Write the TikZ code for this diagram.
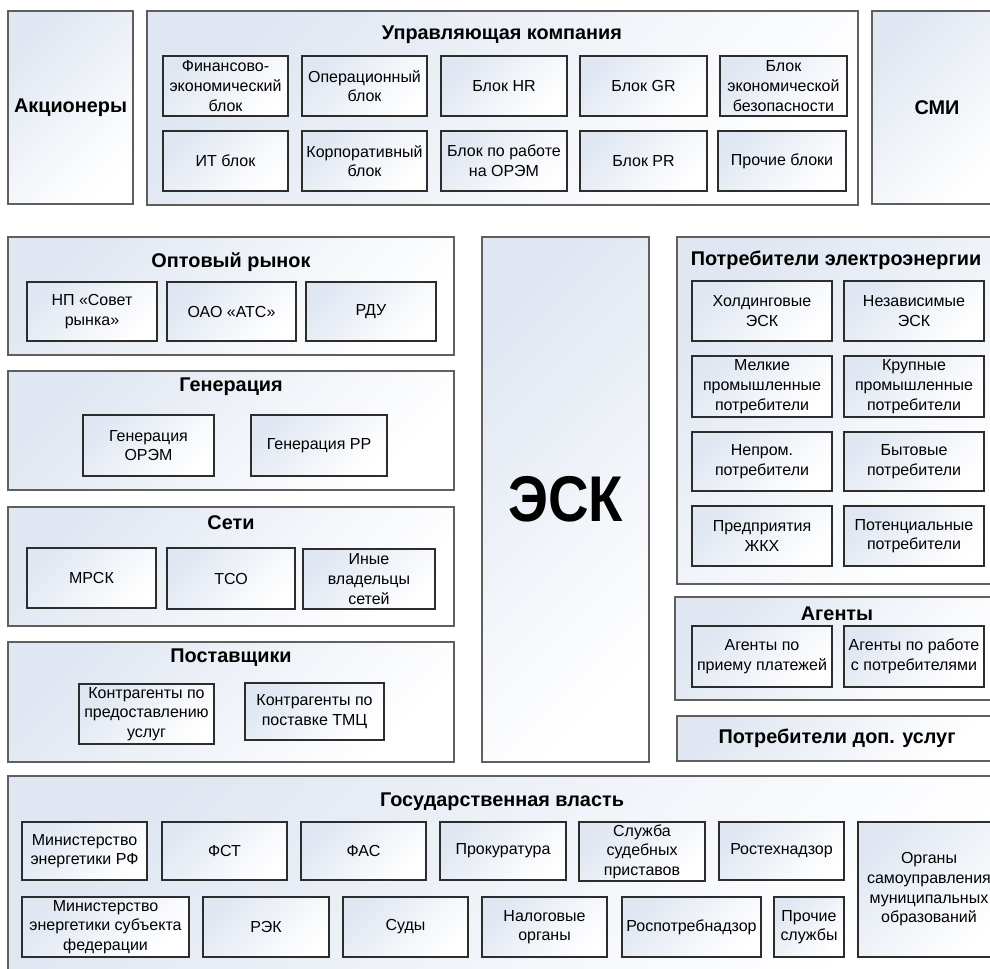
\documentclass[tikz,border=0pt]{standalone}
\usepackage{graphicx}
\usepackage{fontspec}
\setmainfont{Liberation Sans}

\definecolor{shd}{RGB}{224,231,242}
\definecolor{rama}{RGB}{95,95,95}
\definecolor{ramka}{RGB}{45,45,45}

\tikzset{
  blk/.style n args={4}{at={({(#1+#3)/2},{(#2+#4)/2})}, minimum width={(#3-#1)*0.02cm}, minimum height={(#4-#2)*0.02cm}},
  grp/.style={draw=rama, line width=0.9pt, top color=shd, bottom color=white, shading angle=45, inner sep=0pt},
  box/.style={draw=ramka, line width=0.6pt, top color=shd, bottom color=white, shading angle=45, inner sep=0pt,
    align=center, font=\fontsize{9.1}{11.2}\selectfont},
  ttl/.style={font=\fontsize{11.3}{13.5}\selectfont\bfseries},
}

\begin{document}
\begin{tikzpicture}[x=0.02cm, y=-0.02cm]
            \path [use as bounding box, clip] ( 0, 0 ) rectangle ( 990, 969 );

            % верхний ряд
            \node [grp, ttl, blk={8}{11}{133}{204}] (akc) {Акционеры};
            \node [grp, blk={147}{11}{858}{205}] (upr) {};
            \node [ttl] (t-upr) at ( 502, 35 ) {Управляющая компания};
            \node [grp, ttl, blk={872}{11}{1002}{204}] (smi) {СМИ};

            % блоки управляющей компании
            \node [box, blk={163}{56}{288}{116}] (fin) {Финансово-\\экономический\\блок};
            \node [box, blk={302}{56}{427}{116}] (oper) {Операционный\\блок};
            \node [box, blk={441}{56}{567}{116}] (hr) {Блок HR};
            \node [box, blk={580}{56}{707}{116}] (gr) {Блок GR};
            \node [box, blk={720}{56}{847}{116}] (ekb) {Блок\\экономической\\безопасности};
            \node [box, blk={163}{131}{288}{191}] (it) {ИТ блок};
            \node [box, blk={302}{131}{427}{191}] (korp) {Корпоративный\\блок};
            \node [box, blk={441}{131}{567}{191}] (orem) {Блок по работе\\на ОРЭМ};
            \node [box, blk={580}{131}{707}{191}] (pr) {Блок PR};
            \node [box, blk={718}{131}{846}{191}] (proch) {Прочие блоки};

            % оптовый рынок
            \node [grp, blk={8}{237}{454}{355}] (opt) {};
            \node [ttl] (t-opt) at ( 231, 262 ) {Оптовый рынок};
            \node [box, blk={27}{282}{157}{341}] (np) {НП «Совет\\рынка»};
            \node [box, blk={167}{282}{296}{341}] (ats) {ОАО «АТС»};
            \node [box, blk={306}{282}{436}{341}] (rdu) {РДУ};

            % генерация
            \node [grp, blk={8}{371}{454}{490}] (gen) {};
            \node [ttl] (t-gen) at ( 231, 387 ) {Генерация};
            \node [box, blk={83}{415}{214}{476}] (gen-orem) {Генерация\\ОРЭМ};
            \node [box, blk={251}{415}{387}{476}] (gen-rr) {Генерация РР};

            % сети
            \node [grp, blk={8}{507}{454}{626}] (seti) {};
            \node [ttl] (t-seti) at ( 231, 523 ) {Сети};
            \node [box, blk={27}{548}{156}{608}] (mrsk) {МРСК};
            \node [box, blk={167}{548}{295}{609}] (tso) {ТСО};
            \node [box, blk={303}{549}{435}{609}] (inye) {Иные\\владельцы\\сетей};

            % поставщики
            \node [grp, blk={8}{642}{454}{762}] (post) {};
            \node [ttl] (t-post) at ( 231, 658 ) {Поставщики};
            \node [box, blk={79}{684}{214}{744}] (k-usl) {Контрагенты по\\предоставлению\\услуг};
            \node [box, blk={245}{683}{384}{740}] (k-tmc) {Контрагенты по\\поставке ТМЦ};

            % ЭСК
            \node [grp, font=\fontsize{32}{36}\selectfont\bfseries, blk={482}{237}{649}{762}] (esk) {\scalebox{1}[1.15]{ЭСК}};

            % потребители электроэнергии
            \node [grp, blk={677}{237}{996}{584}] (potr) {};
            \node [ttl] (t-potr) at ( 836, 260 ) {Потребители электроэнергии};
            \node [box, blk={692}{281}{832}{341}] (hold) {Холдинговые\\ЭСК};
            \node [box, blk={844}{281}{984}{341}] (nez) {Независимые\\ЭСК};
            \node [box, blk={692}{356}{832}{417}] (melk) {Мелкие\\промышленные\\потребители};
            \node [box, blk={844}{356}{984}{417}] (krup) {Крупные\\промышленные\\потребители};
            \node [box, blk={692}{432}{832}{491}] (neprom) {Непром.\\потребители};
            \node [box, blk={844}{432}{984}{491}] (byt) {Бытовые\\потребители};
            \node [box, blk={692}{506}{832}{566}] (zhkh) {Предприятия\\ЖКХ};
            \node [box, blk={844}{506}{984}{566}] (pot) {Потенциальные\\потребители};

            % агенты
            \node [grp, blk={675}{597}{999}{700}] (ag) {};
            \node [ttl] (t-ag) at ( 837, 614 ) {Агенты};
            \node [box, blk={692}{626}{832}{687}] (ag-pl) {Агенты по\\приему платежей};
            \node [box, blk={844}{626}{984}{687}] (ag-potr) {Агенты по работе\\с потребителями};

            \node [grp, ttl, blk={677}{716}{997}{761}] (dop) {Потребители доп. услуг};

            % государственная власть
            \node [grp, blk={8}{776}{996}{990}] (gos) {};
            \node [ttl] (t-gos) at ( 502, 802 ) {Государственная власть};
            \node [box, blk={22}{822}{147}{880}] (minrf) {Министерство\\энергетики РФ};
            \node [box, blk={162}{822}{287}{880}] (fst) {ФСТ};
            \node [box, blk={301}{822}{426}{880}] (fas) {ФАС};
            \node [box, blk={440}{822}{566}{880}] (prok) {Прокуратура};
            \node [box, blk={579}{822}{705}{881}] (fssp) {Служба\\судебных\\приставов};
            \node [box, blk={719}{822}{844}{880}] (rtn) {Ростехнадзор};
            \node [box, blk={858}{822}{1000}{957}] (omsu) {Органы\\самоуправления\\муниципальных\\образований};
            \node [box, blk={22}{897}{189}{957}] (minsub) {Министерство\\энергетики субъекта\\федерации};
            \node [box, blk={203}{897}{329}{957}] (rek) {РЭК};
            \node [box, blk={343}{897}{468}{957}] (sudy) {Суды};
            \node [box, blk={482}{897}{607}{957}] (nalog) {Налоговые\\органы};
            \node [box, blk={622}{897}{761}{957}] (rpn) {Роспотребнадзор};
            \node [box, blk={774}{897}{844}{957}] (pr-sl) {Прочие\\службы};
        \end{tikzpicture}
\end{document}
